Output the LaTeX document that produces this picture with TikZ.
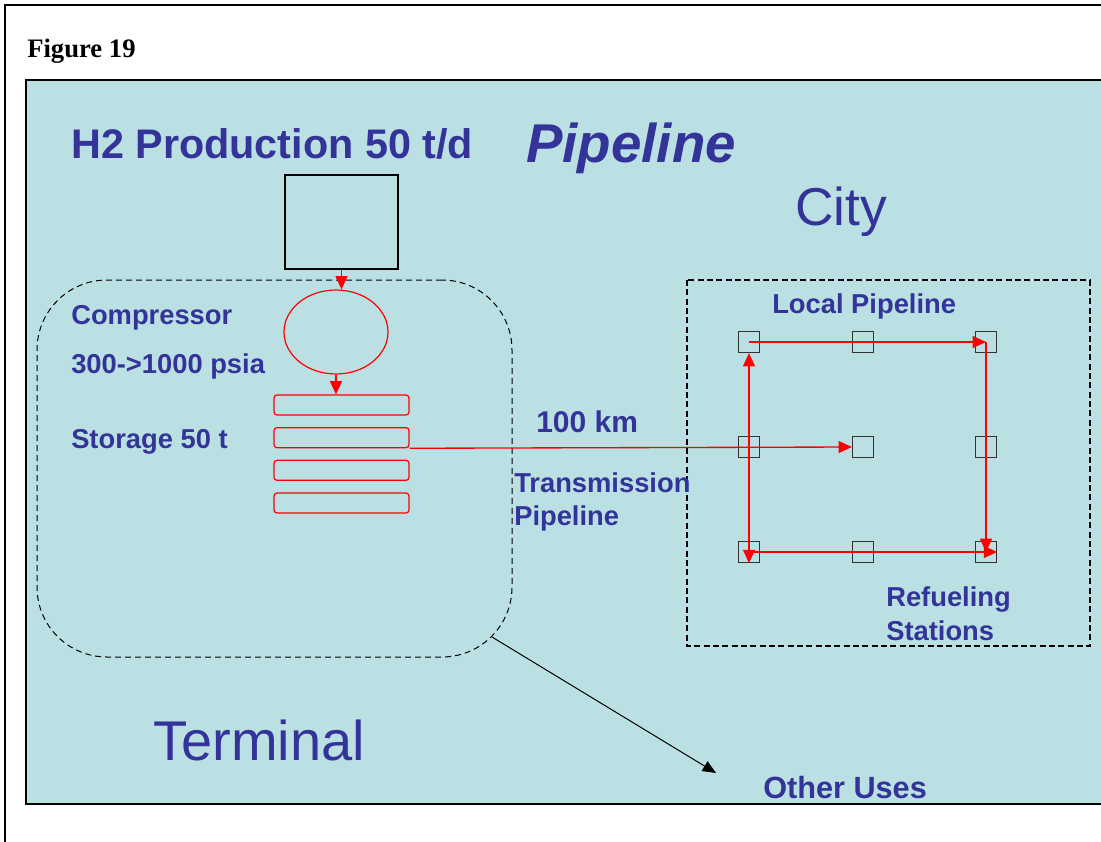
\documentclass[tikz,border=0pt]{standalone}
\usepackage{fontspec}
\setmainfont{Liberation Sans}
\newfontfamily\figfont{Liberation Serif}
\usetikzlibrary{positioning,shapes.geometric,arrows.meta}
\definecolor{panelblue}{RGB}{186,224,227}
\definecolor{labelblue}{RGB}{51,51,153}
\tikzset{
  lbl/.style={text=labelblue, anchor=base west, inner sep=0pt, align=left,
    font=\bfseries\fontsize{20.5}{25.5}\selectfont},
  big/.style={text=labelblue, anchor=base west, inner sep=0pt,
    font=\fontsize{40}{48}\selectfont},
  store/.style={draw=red, line width=0.9pt, rounded corners=2.25pt,
    minimum width=101.25pt, minimum height=15pt, inner sep=0pt},
  station/.style={draw=black!80, line width=0.9pt, minimum size=15.75pt, inner sep=0pt},
  redflow/.style={red, line width=1pt, -{Triangle[length=10pt,width=9pt]}},
}
\begin{document}
\begin{tikzpicture}[x=0.75pt,y=-0.75pt]
	\useasboundingbox (0,0) rectangle (1101,842);
	%% frame and panel
	\draw[line width=1.5pt] (5,5) rectangle (1130,870);
	\node[anchor=base west, inner sep=0pt, font=\figfont\bfseries\fontsize{20}{24}\selectfont] (fig) at (27,58) {Figure 19};
	\draw[fill=panelblue, line width=1pt] (26,80) rectangle (1130,804);
	%% titles
	\node[lbl, font=\bfseries\fontsize{31}{36}\selectfont] (prodtitle) at (71,159) {H2 Production 50 t/d};
	\node[big, font=\bfseries\itshape\fontsize{41}{48}\selectfont] (pipetitle) at (526,162) {Pipeline};
	\node[big] (city) at (795,225) {City};
	\node[big, font=\fontsize{42}{48}\selectfont] (terminal) at (153,760) {Terminal};
	%% terminal side
	\node[draw, dashed, dash pattern=on 4.5pt off 3pt, line width=0.75pt, rounded corners=52.5pt,
		minimum width=356.25pt, minimum height=282.75pt, inner sep=0pt] (termzone) at (274.5,468.5) {};
	\node[draw, line width=0.9pt, minimum width=84.75pt, minimum height=70.5pt, inner sep=0pt] (prod) at (341.5,222) {};
	\node[ellipse, draw=red, line width=0.9pt, minimum width=78pt, minimum height=63pt, inner sep=0pt] (comp) at (336,332) {};
	\node[store] (st1) at (341.5,405) {};
	\node[store, below=8.6pt of st1] (st2) {};
	\node[store, below=8.6pt of st2] (st3) {};
	\node[store, below=8.6pt of st3] (st4) {};
	\node[lbl] (complbl) at (71,324) {Compressor};
	\node[lbl] (presslbl) at (71,373) {300->1000 psia};
	\node[lbl] (storelbl) at (71,448) {Storage 50 t};
	% flow down the terminal
	\draw[redflow] (prod.south) -- (prod.south |- comp.north);
	\draw[redflow] (comp.south) -- (comp.south |- st1.north);
	%% city side
	\draw[dashed, dash pattern=on 4.5pt off 2.5pt, line width=1.5pt] (687,280) rectangle (1090,646);
	\node[lbl] (locallbl) at (772,313) {Local Pipeline};
	\foreach \r/\y in {1/342,2/447,3/552}
		\foreach \c/\x in {1/749,2/863,3/986}
			\node[station] (sq-\r-\c) at (\x,\y) {};
	% base of a two-line label sits on its last line
	\node[lbl] (refuellbl) at (886,640) {Refueling\\Stations};
	% local loop
	\draw[redflow] (sq-1-1.center) -- (sq-1-3.center);
	\draw[redflow] (sq-1-3.center) -- (sq-3-3.center);
	\draw[redflow] (sq-3-1.center) -- (sq-3-3.east);
	\draw[redflow, {Triangle[length=10pt,width=9pt]}-{Triangle[length=10pt,width=9pt]}] (sq-1-1.south) -- (sq-3-1.south);
	%% transmission
	\draw[redflow] (st2.south east) -- (sq-2-2.west);
	\node[lbl, font=\bfseries\fontsize{22.5}{27}\selectfont] (kmlbl) at (536,432) {100 km};
	\node[lbl, font=\bfseries\fontsize{20.5}{24.75}\selectfont] (translbl) at (514,525) {Transmission\\Pipeline};
	%% other uses
	\node[lbl, font=\bfseries\fontsize{23}{28}\selectfont] (otherlbl) at (763,798) {Other Uses};
	\coordinate (tap) at (492,637); % on the rounded corner
	\coordinate (otherin) at (716,773);
	\draw[line width=0.75pt, -{Triangle[length=10pt,width=8.5pt]}] (tap) -- (otherin);
\end{tikzpicture}
\end{document}
